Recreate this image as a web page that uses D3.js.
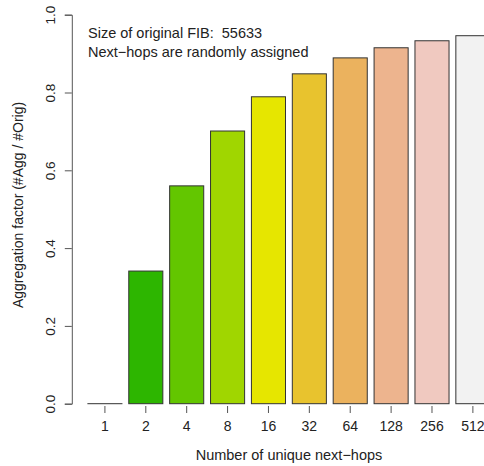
<!DOCTYPE html>
<html>
<head>
<meta charset="utf-8">
<script src="https://cdn.jsdelivr.net/npm/d3@7"></script>
<style>
  body { margin: 0; background: #fff; }
  svg text { font-family: "Liberation Sans", Arial, Helvetica, sans-serif; fill: #222; white-space: pre; }
</style>
</head>
<body>
<svg id="chart" width="484" height="466"></svg>
<script>
// number of unique next-hops
var hops = ["1", "2", "4", "8", "16", "32", "64", "128", "256", "512"];
// aggregation factor (#Agg / #Orig)
var factor = [0.00002, 0.341, 0.560, 0.701, 0.789, 0.848, 0.889, 0.915, 0.933, 0.946];
// R terrain.colors(10)
var colors = ["#00A600", "#2DB600", "#63C600", "#A0D600", "#E6E600",
              "#E8C32E", "#EBB25E", "#EDB48E", "#F0C9C0", "#F2F2F2"];
var yTicks = [0, 0.2, 0.4, 0.6, 0.8, 1.0];
var notes = ["Size of original FIB:  55633", "Next\u2212hops are randomly assigned"];

var svg = d3.select("#chart");

// barplot units: width 1, space 0.2, like R barplot
var x = d3.scaleLinear().domain([-0.272, 12.472]).range([71.8, 506]);
var y = d3.scaleLinear().domain([0, 1]).range([403.7, 14.7]);

var bars = hops.map(function(h, i) {
    return {hop: h, value: factor[i], color: colors[i], left: 0.2 + i * 1.2};
});

// bars
svg.append("g").selectAll("rect").data(bars).enter().append("rect")
    .attr("x", function(d) { return x(d.left); })
    .attr("width", function(d) { return x(d.left + 1) - x(d.left); })
    .attr("y", function(d) { return y(d.value); })
    .attr("height", function(d) { return y(0) - y(d.value); })
    .style("fill", function(d) { return d.color; })
    .style("stroke", "#333")
    .style("stroke-width", 1);

// y axis
var yAxis = svg.append("g")
    .attr("transform", "translate(" + x(-0.272) + ",0)")
    .call(d3.axisLeft(y).tickValues(yTicks).tickSize(7).tickFormat(d3.format(".1f")));
yAxis.select(".domain").attr("stroke", "#555");
yAxis.selectAll(".tick line").attr("stroke", "#555");
yAxis.selectAll(".tick text")
    .attr("x", null).attr("dy", null)
    .attr("transform", "translate(-17,0) rotate(-90)")
    .attr("text-anchor", "middle")
    .style("font-size", "13.5px")
    .style("font-family", null);

// x ticks and labels (no axis line)
var xt = svg.append("g").selectAll("g").data(bars).enter().append("g")
    .attr("transform", function(d) { return "translate(" + x(d.left + 0.5) + ",0)"; });
xt.append("line").attr("y1", 406).attr("y2", 413).attr("stroke", "#555");
xt.append("text").attr("y", 431).attr("text-anchor", "middle")
    .style("font-size", "14px")
    .text(function(d) { return d.hop; });

// axis titles
svg.append("text")
    .attr("x", 289).attr("y", 460)
    .attr("text-anchor", "middle")
    .style("font-size", "14.5px")
    .text("Number of unique next\u2212hops");
svg.append("text")
    .attr("transform", "translate(23,205) rotate(-90)")
    .attr("text-anchor", "middle")
    .style("font-size", "14px")
    .text("Aggregation factor (#Agg / #Orig)");

// annotation
svg.append("g").selectAll("text").data(notes).enter().append("text")
    .attr("x", 88)
    .attr("y", function(d, i) { return 38 + i * 19; })
    .style("font-size", "14.5px")
    .text(function(d) { return d; });
</script>
</body>
</html>
